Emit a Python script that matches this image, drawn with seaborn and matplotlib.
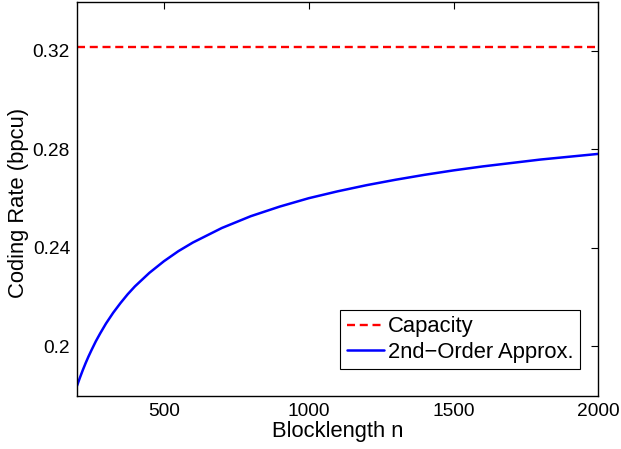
import matplotlib
matplotlib.use("Agg")
import matplotlib.pyplot as plt
import seaborn as sns
import pandas as pd

# Data
blocklength = [200, 210, 220, 230, 240, 250, 265, 280, 300, 325, 350, 375, 400,
               450, 500, 550, 600, 700, 800, 900, 1000, 1100, 1200, 1300, 1400,
               1500, 1600, 1800, 2000]
approx_rate = [0.1840, 0.1873, 0.1904, 0.1933, 0.1960, 0.1985, 0.2021, 0.2053,
               0.2093, 0.2137, 0.2176, 0.2212, 0.2244, 0.2299, 0.2346, 0.2387,
               0.2422, 0.2481, 0.2529, 0.2568, 0.2602, 0.2630, 0.2655, 0.2677,
               0.2697, 0.2715, 0.2731, 0.2759, 0.2782]
capacity_value = 0.3218
capacity_x = [200, 2000]
capacity_rate = [capacity_value, capacity_value]
x_ticks = [500, 1000, 1500, 2000]
y_ticks = [0.2, 0.24, 0.28, 0.32]
y_tick_labels = ["0.2", "0.24", "0.28", "0.32"]

sns.set_style("white")
plt.rcParams["font.family"] = ["Liberation Sans", "DejaVu Sans"]
plt.rcParams["axes.edgecolor"] = "black"
plt.rcParams["text.color"] = "black"
plt.rcParams["axes.labelcolor"] = "black"

fig = plt.figure(figsize=(6.21, 4.49), dpi=100)
ax = fig.add_axes([0.124, 0.1187, 0.8395, 0.8775])

df_cap = pd.DataFrame({"n": capacity_x, "rate": capacity_rate})
df_app = pd.DataFrame({"n": blocklength, "rate": approx_rate})

sns.lineplot(data=df_cap, x="n", y="rate", ax=ax, color="#ff0000", lw=1.7,
             label="Capacity")
ax.lines[-1].set_dashes((3.4, 2.0))
sns.lineplot(data=df_app, x="n", y="rate", ax=ax, color="#0000ff", lw=1.8,
             label="2nd\u2212Order Approx.")

ax.set_xlim(200, 2000)
ax.set_ylim(0.18, 0.34)
ax.set_xticks(x_ticks)
ax.set_xticklabels([str(t) for t in x_ticks])
ax.set_yticks(y_ticks)
ax.set_yticklabels(y_tick_labels)
ax.tick_params(direction="in", length=5, width=0.8, top=True, right=True,
               labelsize=13.8, colors="black", pad=5)
for s in ax.spines.values():
    s.set_linewidth(1.0)
    s.set_color("black")

ax.set_xlabel("Blocklength n", fontsize=15.8, labelpad=1, color="black")
ax.set_ylabel("Coding Rate (bpcu)", fontsize=15.8, labelpad=3, color="black")
ax.yaxis.label.set_y(0.488)

leg = ax.legend(loc="lower right", bbox_to_anchor=(0.9655, 0.067), fontsize=15.8,
                frameon=True, fancybox=False, framealpha=1, edgecolor="black",
                borderpad=0.3, handlelength=1.7, handletextpad=0.2,
                labelspacing=0.2, borderaxespad=0)
leg.get_frame().set_linewidth(0.8)
for t in leg.get_texts():
    t.set_color("black")

fig.savefig("out.png", dpi=100)
